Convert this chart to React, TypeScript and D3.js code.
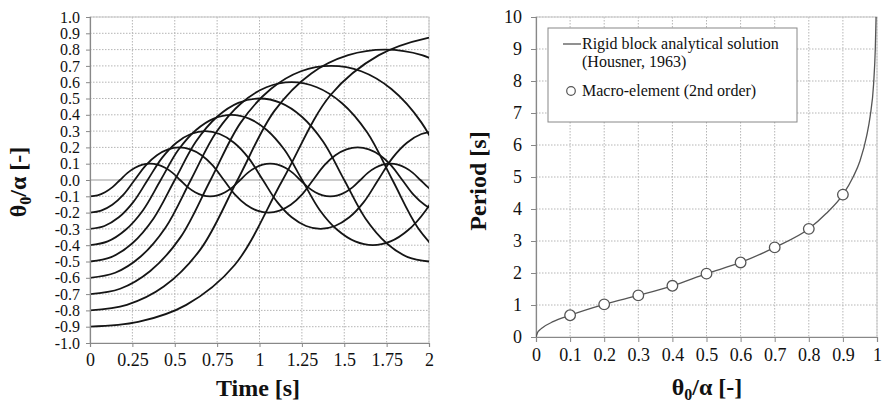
import React, { useEffect, useRef } from "react";
import * as d3 from "d3";

const rock01 = [-0.1, -0.094, -0.075, -0.044, 0, 0.044, 0.075, 0.094, 0.1, 0.094, 0.075, 0.044, 0, -0.044, -0.075, -0.094,
  -0.1, -0.094, -0.075, -0.044, 0, 0.044, 0.075, 0.094, 0.1, 0.094, 0.075, 0.044, 0, -0.044, -0.075, -0.094,
  -0.1, -0.094, -0.075, -0.044, 0, 0.044, 0.075, 0.094, 0.1, 0.094, 0.075, 0.044, 0, -0.044, -0.075, -0.094];
const rock02 = [-0.2, -0.188, -0.152, -0.09, 0, 0.09, 0.152, 0.188, 0.2, 0.188, 0.152, 0.09, 0, -0.09, -0.152, -0.188,
  -0.2, -0.188, -0.152, -0.09, 0, 0.09, 0.152, 0.188, 0.2, 0.188, 0.152, 0.09, 0, -0.09, -0.152, -0.188];
const rock03 = [-0.3, -0.282, -0.229, -0.136, 0, 0.136, 0.229, 0.282, 0.3, 0.282, 0.229, 0.136, 0, -0.136, -0.229, -0.282,
  -0.3, -0.282, -0.229, -0.136, 0, 0.136, 0.229, 0.282, 0.3];
const rock04 = [-0.4, -0.377, -0.307, -0.185, 0, 0.185, 0.307, 0.377, 0.4, 0.377, 0.307, 0.185, 0, -0.185, -0.307, -0.377,
  -0.4, -0.377, -0.307, -0.185, 0];
const rock05 = [-0.5, -0.473, -0.388, -0.236, 0, 0.236, 0.388, 0.473, 0.5, 0.473, 0.388, 0.236, 0, -0.236, -0.388, -0.473, -0.5];
const rock06 = [-0.6, -0.569, -0.471, -0.291, 0, 0.291, 0.471, 0.569, 0.6, 0.569, 0.471, 0.291, 0, -0.291, -0.471];
const rock07 = [-0.7, -0.667, -0.558, -0.352, 0, 0.352, 0.558, 0.667, 0.7, 0.667, 0.558, 0.352, 0];
const rock08 = [-0.8, -0.766, -0.654, -0.424, 0, 0.424, 0.654, 0.766, 0.8, 0.766, 0.654];
const rock09 = [-0.9, -0.871, -0.766, -0.523, 0, 0.523, 0.766, 0.871, 0.9];
const rockSteps = [0.0443, 0.0658, 0.085, 0.1043, 0.125, 0.1487, 0.1778, 0.2176, 0.2841];

const timeTicks = [0, 0.25, 0.5, 0.75, 1, 1.25, 1.5, 1.75, 2];
const timeLabels = ["0", "0.25", "0.5", "0.75", "1", "1.25", "1.5", "1.75", "2"];
const thetaTicks = d3.range(-10, 11).map(i => i / 10);

// right chart: period vs theta0/alpha
const curveX = [0, 0.005, 0.01, 0.02, 0.05, 0.1, 0.2, 0.3, 0.4, 0.5, 0.6, 0.7, 0.8, 0.85, 0.9, 0.93, 0.95, 0.97, 0.98, 0.99, 0.995, 0.998];
const curveT = [0, 0.15, 0.21, 0.3, 0.48, 0.68, 1.02, 1.3, 1.6, 1.98, 2.33, 2.8, 3.38, 3.85, 4.45, 5.0, 5.5, 6.3, 6.9, 7.9, 9.0, 10.3];
const macroX = [0.1, 0.2, 0.3, 0.4, 0.5, 0.6, 0.7, 0.8, 0.9];
const macroT = [0.68, 1.02, 1.3, 1.6, 1.98, 2.33, 2.8, 3.38, 4.45];
const ratioTicks = d3.range(0, 11).map(i => i / 10);
const ratioLabels = ["0", "0.1", "0.2", "0.3", "0.4", "0.5", "0.6", "0.7", "0.8", "0.9", "1"];
const periodTicks = d3.range(0, 11);

const FONT = "'Liberation Serif', 'Times New Roman', serif";

export default function App() {
  const ref = useRef<SVGSVGElement>(null);

  useEffect(() => {
    const svg = d3.select(ref.current);
    svg.selectAll("*").remove();

    const gridColor = "#b5b5b5";

    // ---------- left chart ----------
    const x = d3.scaleLinear().domain([0, 2]).range([90, 429]);
    const y = d3.scaleLinear().domain([-1, 1]).range([343, 17]);

    const left = svg.append("g");
    left.append("defs").append("clipPath").attr("id", "clipL")
      .append("rect").attr("x", 90).attr("y", 17).attr("width", 339).attr("height", 326);

    // grid
    left.selectAll(".vg").data(timeTicks.slice(1)).join("line")
      .attr("x1", d => x(d)).attr("x2", d => x(d)).attr("y1", 17).attr("y2", 343)
      .attr("stroke", gridColor).attr("stroke-dasharray", "1.5,1.5");
    left.selectAll(".hg").data(thetaTicks.filter(d => d !== 0 && d !== -1)).join("line")
      .attr("x1", 90).attr("x2", 429).attr("y1", d => y(d)).attr("y2", d => y(d))
      .attr("stroke", gridColor).attr("stroke-dasharray", "1.5,1.5");
    left.append("line").attr("x1", 90).attr("x2", 429).attr("y1", y(0)).attr("y2", y(0))
      .attr("stroke", "#999").attr("stroke-width", 1.2);
    left.append("rect").attr("x", 90).attr("y", 17).attr("width", 339).attr("height", 326)
      .attr("fill", "none").attr("stroke", "#c8c8c8");

    // curves
    const series = [rock01, rock02, rock03, rock04, rock05, rock06, rock07, rock08, rock09];
    series.forEach((vals, s) => {
      const dt = rockSteps[s];
      const gen = d3.line<number>()
        .x((d, i) => x(i * dt))
        .y(d => y(d))
        .curve(d3.curveCatmullRom.alpha(0.5));
      left.append("path").attr("d", gen(vals))
        .attr("clip-path", "url(#clipL)")
        .attr("fill", "none").attr("stroke", "#151515").attr("stroke-width", 1.8);
    });

    // axes
    const yAxisL = left.append("g").attr("transform", "translate(90,0)")
      .call(d3.axisLeft(y).tickValues(thetaTicks).tickSize(4).tickPadding(6)
        .tickFormat(d => d3.format(".1f")(d as number).replace("\u2212", "-")));
    const xAxisL = left.append("g").attr("transform", "translate(0,343)")
      .call(d3.axisBottom(x).tickValues(timeTicks).tickSize(4).tickPadding(6)
        .tickFormat((d, i) => timeLabels[i]));
    [yAxisL, xAxisL].forEach(a => {
      a.select(".domain").attr("stroke", "#888").attr("stroke-width", 1.2);
      a.selectAll(".tick line").attr("stroke", "#888");
      a.selectAll("text").attr("font-family", FONT).attr("font-size", 18).attr("fill", "#111");
    });
    yAxisL.selectAll("text").attr("font-size", 16);

    left.append("text").attr("x", 258).attr("y", 396).attr("text-anchor", "middle")
      .attr("font-family", FONT).attr("font-size", 24).attr("font-weight", "bold").attr("fill", "#111")
      .text("Time [s]");

    const yl = left.append("text").attr("transform", "translate(26,182) rotate(-90)")
      .attr("text-anchor", "middle").attr("font-family", FONT).attr("font-size", 24)
      .attr("font-weight", "bold").attr("fill", "#111");
    yl.append("tspan").text("θ");
    yl.append("tspan").attr("dy", 5).attr("font-size", 16).text("0");
    yl.append("tspan").attr("dy", -5).text("/α [-]");

    // ---------- right chart ----------
    const x2 = d3.scaleLinear().domain([0, 1]).range([536, 877]);
    const y2 = d3.scaleLinear().domain([0, 10]).range([337, 17]);

    const right = svg.append("g");
    right.append("defs").append("clipPath").attr("id", "clipR")
      .append("rect").attr("x", 536).attr("y", 17).attr("width", 341).attr("height", 320);

    right.selectAll(".vg").data(ratioTicks.slice(1)).join("line")
      .attr("x1", d => x2(d)).attr("x2", d => x2(d)).attr("y1", 17).attr("y2", 337)
      .attr("stroke", gridColor).attr("stroke-dasharray", "1.5,1.5");
    right.selectAll(".hg").data(periodTicks.slice(1)).join("line")
      .attr("x1", 536).attr("x2", 877).attr("y1", d => y2(d)).attr("y2", d => y2(d))
      .attr("stroke", gridColor).attr("stroke-dasharray", "1.5,1.5");
    right.append("rect").attr("x", 536).attr("y", 17).attr("width", 341).attr("height", 320)
      .attr("fill", "none").attr("stroke", "#c8c8c8");

    const yAxisR = right.append("g").attr("transform", "translate(536,0)")
      .call(d3.axisLeft(y2).tickValues(periodTicks).tickSize(5).tickPadding(9));
    const xAxisR = right.append("g").attr("transform", "translate(0,337)")
      .call(d3.axisBottom(x2).tickValues(ratioTicks).tickSize(5).tickPadding(6)
        .tickFormat((d, i) => ratioLabels[i]));
    [yAxisR, xAxisR].forEach(a => {
      a.select(".domain").attr("stroke", "#888").attr("stroke-width", 1.2);
      a.selectAll(".tick line").attr("stroke", "#888");
      a.selectAll("text").attr("font-family", FONT).attr("font-size", 18).attr("fill", "#111");
    });

    const pts = curveX.map((d, i) => [d, curveT[i]] as [number, number]);
    const pline = d3.line<[number, number]>()
      .x(d => x2(d[0])).y(d => y2(d[1]))
      .curve(d3.curveMonotoneX);
    right.append("path").attr("d", pline(pts)).attr("clip-path", "url(#clipR)")
      .attr("fill", "none").attr("stroke", "#555").attr("stroke-width", 1.3);

    right.selectAll(".macro").data(macroX).join("circle")
      .attr("cx", d => x2(d)).attr("cy", (d, i) => y2(macroT[i])).attr("r", 5.3)
      .attr("fill", "#fff").attr("stroke", "#555").attr("stroke-width", 1.3);

    // legend
    const lg = right.append("g");
    lg.append("rect").attr("x", 548).attr("y", 28).attr("width", 249).attr("height", 94)
      .attr("fill", "#fff").attr("stroke", "#888");
    lg.append("line").attr("x1", 563).attr("x2", 581).attr("y1", 44).attr("y2", 44)
      .attr("stroke", "#555").attr("stroke-width", 1.3);
    lg.append("text").attr("x", 582).attr("y", 49).text("Rigid block analytical solution");
    lg.append("text").attr("x", 582).attr("y", 67).text("(Housner, 1963)");
    lg.append("circle").attr("cx", 571).attr("cy", 91).attr("r", 4.3)
      .attr("fill", "#fff").attr("stroke", "#555").attr("stroke-width", 1.2);
    lg.append("text").attr("x", 582).attr("y", 96).text("Macro-element (2nd order)");
    lg.selectAll("text").attr("font-family", FONT).attr("font-size", 16).attr("fill", "#111");

    const xl2 = right.append("text").attr("x", 707).attr("y", 395).attr("text-anchor", "middle")
      .attr("font-family", FONT).attr("font-size", 24).attr("font-weight", "bold").attr("fill", "#111");
    xl2.append("tspan").text("θ");
    xl2.append("tspan").attr("dy", 5).attr("font-size", 16).text("0");
    xl2.append("tspan").attr("dy", -5).text("/α [-]");

    right.append("text").attr("transform", "translate(486,181) rotate(-90)")
      .attr("text-anchor", "middle").attr("font-family", FONT).attr("font-size", 24)
      .attr("font-weight", "bold").attr("fill", "#111").text("Period [s]");
  }, []);

  return (
    <svg ref={ref} width={884} height={405}
      style={{ position: "absolute", left: 0, top: 0, background: "#fff" }} />
  );
}
